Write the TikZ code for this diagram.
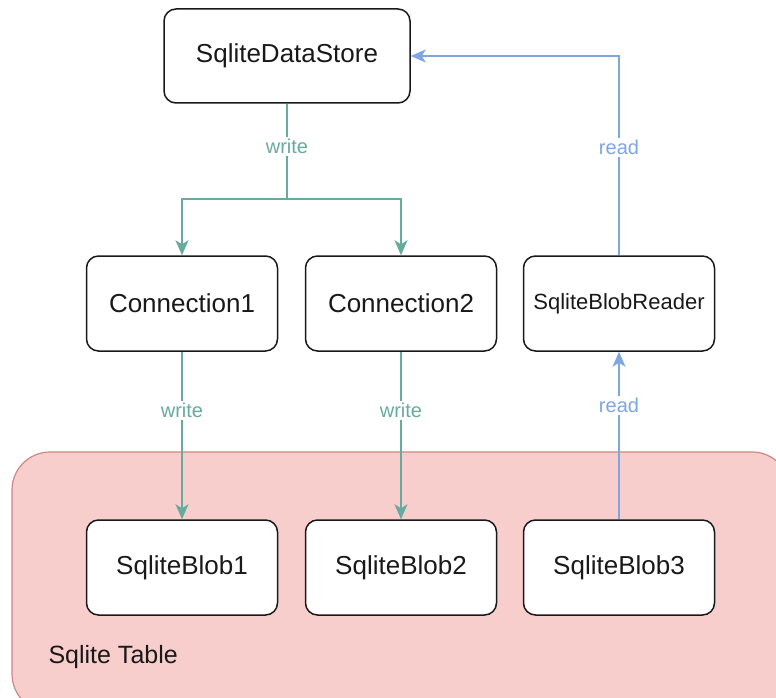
\documentclass[tikz,border=0pt]{standalone}
\usepackage{fontspec}
\setmainfont{Liberation Sans}
\usetikzlibrary{arrows.meta}
\definecolor{wgreen}{HTML}{67AB9F}
\definecolor{rblue}{HTML}{7EA6E0}
\definecolor{tblfill}{HTML}{F8CECC}
\definecolor{tbldraw}{HTML}{B85450}
\tikzset{
  box/.style={draw=black!90, line width=1.5pt, fill=white, rounded corners=12pt,
    minimum width=191pt, minimum height=95pt, inner sep=0pt,
    font=\fontsize{26}{30}\selectfont, text=black!90},
  wline/.style={draw=wgreen, line width=1.6pt},
  warrow/.style={wline, -{Stealth[length=15pt,width=13pt,inset=4pt]}},
  rline/.style={draw=rblue, line width=1.6pt, -{Stealth[length=15pt,width=13pt,inset=4pt]}},
  wlbl/.style={fill=white, inner sep=2pt, text=wgreen, font=\fontsize{20}{22}\selectfont},
  rlbl/.style={fill=white, inner sep=2pt, text=rblue, font=\fontsize{20}{22}\selectfont},
}
\begin{document}
\begin{tikzpicture}[x=1pt,y=-1pt]
\useasboundingbox (0,0) rectangle (776,698);
% table container
\begin{scope}
\clip (0,0) rectangle (776,698);
\draw[fill=tblfill, draw=tbldraw!70, line width=1.2pt, rounded corners=38pt] (12,452) rectangle (790,712);
\end{scope}
\node[anchor=west, font=\fontsize{25}{30}\selectfont, text=black!90] (tbl) at (45,657) {Sqlite Table};
% nodes
\node[box, minimum width=246pt, minimum height=94pt] (ds) at (287,56) {SqliteDataStore};
\node[box] (c1) at (182,303.5) {Connection1};
\node[box] (c2) at (401,303.5) {Connection2};
\node[box, font=\fontsize{22}{26}\selectfont] (rd) at (619,303.5) {SqliteBlobReader};
\node[box] (b1) at (182,567.5) {SqliteBlob1};
\node[box] (b2) at (401,567.5) {SqliteBlob2};
\node[box] (b3) at (619,567.5) {SqliteBlob3};
\coordinate (wsplit) at (287,199);
% write edges
\draw[wline] (ds.south) -- node[wlbl, pos=0.45] {write} (wsplit);
\draw[warrow] (wsplit) -| (c1.north);
\draw[warrow] (wsplit) -| (c2.north);
\draw[warrow] (c1.south) -- node[wlbl, pos=0.35] {write} (b1.north);
\draw[warrow] (c2.south) -- node[wlbl, pos=0.35] {write} (b2.north);
% read edges
\draw[rline] (b3.north) -- node[rlbl, pos=0.68] {read} (rd.south);
\draw[rline] (rd.north) |- node[rlbl, pos=0.27] {read} (ds.east);
\end{tikzpicture}
\end{document}
